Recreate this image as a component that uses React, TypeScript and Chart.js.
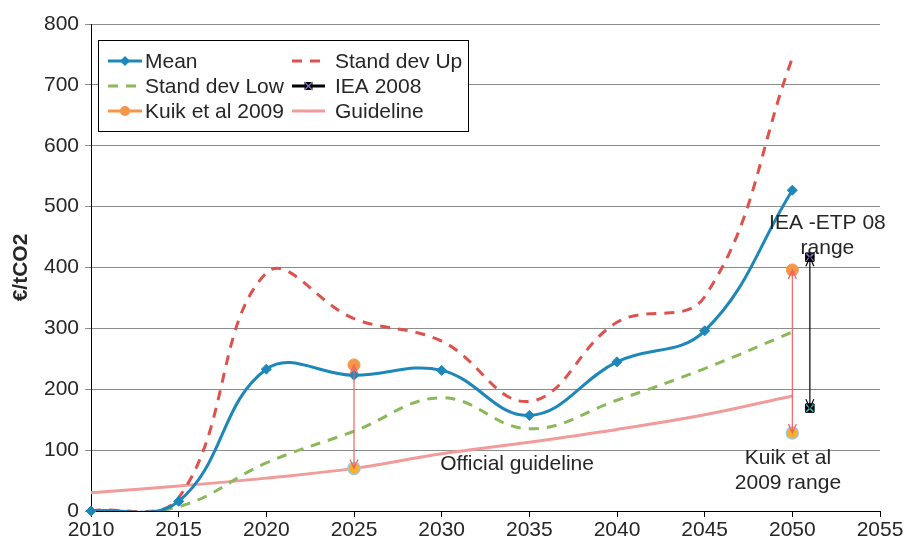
import React, { useEffect, useRef } from "react";
import { Chart, registerables } from "chart.js";

Chart.register(...registerables);

// ---------- data ----------
const years = [2010, 2015, 2020, 2025, 2030, 2035, 2040, 2045, 2050];
const meanValues = [0, 16, 233, 223, 231, 157, 245, 296, 527];
const sdUpValues = [0, 22, 391, 316, 279, 180, 310, 352, 744];
const sdLowValues = [0, 7, 79, 131, 186, 135, 182, 234, 294];
const guidelineValues = [30, 41, 54, 70, 94, 113, 134, 158, 189];
const kuikYears = [2025, 2050];
const kuikHigh = [240, 396];
const kuikLow = [70, 128];
const ieaYears = [2051];
const ieaHigh = [417];
const ieaLow = [169];
const xTickValues = [2010, 2015, 2020, 2025, 2030, 2035, 2040, 2045, 2050, 2055];
const yTickValues = [0, 100, 200, 300, 400, 500, 600, 700, 800];
const legendLabels = ["Mean", "Stand dev Up", "Stand dev Low", "IEA 2008", "Kuik et al 2009", "Guideline"];
const ieaNote = ["IEA -ETP 08", "range"];
const kuikNote = ["Kuik et al", "2009 range"];
const guidelineNote = "Official guideline";
const yTitle = "€/tCO2";

// ---------- styles ----------
const FONT = "'Liberation Sans', Arial, sans-serif";
const TEXT = "#262626";
const BLUE = "#1d87ba";
const RED = "#dd524c";
const GREEN = "#8cb85c";
const PINK = "#f29b9b";
const ORANGE = "#f79646";

const pts = (xs: number[], ys: number[]) => xs.map((x, i) => ({ x, y: ys[i] }));

const arrowsPlugin = {
  id: "rangeArrows",
  afterDatasetsDraw(chart: any) {
    const { ctx, scales } = chart;
    const xs = scales.x;
    const ys = scales.y;
    const arrow = (xv: number, hi: number, lo: number, color: string) => {
      const px = xs.getPixelForValue(xv);
      const y1 = ys.getPixelForValue(hi);
      const y2 = ys.getPixelForValue(lo);
      ctx.save();
      ctx.strokeStyle = color;
      ctx.lineWidth = 1.2;
      ctx.beginPath();
      ctx.moveTo(px, y1);
      ctx.lineTo(px, y2);
      ctx.moveTo(px - 4, y1 + 9);
      ctx.lineTo(px, y1);
      ctx.lineTo(px + 4, y1 + 9);
      ctx.moveTo(px - 4, y2 - 9);
      ctx.lineTo(px, y2);
      ctx.lineTo(px + 4, y2 - 9);
      ctx.stroke();
      ctx.restore();
    };
    kuikYears.forEach((yr, i) => arrow(yr, kuikHigh[i], kuikLow[i], "#f06262"));
    ieaYears.forEach((yr, i) => arrow(yr, ieaHigh[i], ieaLow[i], "#000"));

    // notes
    ctx.save();
    ctx.font = `21px ${FONT}`;
    ctx.fillStyle = TEXT;
    ctx.textAlign = "center";
    ctx.textBaseline = "middle";
    const ix = xs.getPixelForValue(2052);
    ctx.fillText(ieaNote[0], ix, ys.getPixelForValue(473));
    ctx.fillText(ieaNote[1], ix, ys.getPixelForValue(431));
    const kx = xs.getPixelForValue(2049.75);
    ctx.fillText(kuikNote[0], kx, ys.getPixelForValue(87));
    ctx.fillText(kuikNote[1], kx, ys.getPixelForValue(46));
    ctx.fillText(guidelineNote, xs.getPixelForValue(2034.3), ys.getPixelForValue(77));
    ctx.restore();
  },
};

const legendPlugin = {
  id: "boxLegend",
  afterDraw(chart: any) {
    const { ctx } = chart;
    ctx.save();
    ctx.fillStyle = "#fff";
    ctx.fillRect(98, 40, 370, 91);
    ctx.strokeStyle = "#000";
    ctx.lineWidth = 1;
    ctx.strokeRect(98.5, 40.5, 370, 91);
    const rows = [61, 86, 111];
    const col = [
      { x0: 108, x1: 142, tx: 145 },
      { x0: 292, x1: 325, tx: 335 },
    ];
    const items = [
      { c: 0, r: 0, color: BLUE, dash: [], marker: "diamond" },
      { c: 1, r: 0, color: RED, dash: [10, 8], marker: "" },
      { c: 0, r: 1, color: GREEN, dash: [10, 8], marker: "" },
      { c: 1, r: 1, color: "#000", dash: [], marker: "iea" },
      { c: 0, r: 2, color: ORANGE, dash: [], marker: "circle" },
      { c: 1, r: 2, color: PINK, dash: [], marker: "" },
    ];
    items.forEach((it, i) => {
      const y = rows[it.r];
      const { x0, x1, tx } = col[it.c];
      ctx.strokeStyle = it.color;
      ctx.lineWidth = 3;
      ctx.setLineDash(it.dash);
      ctx.beginPath();
      ctx.moveTo(x0, y);
      ctx.lineTo(x1, y);
      ctx.stroke();
      ctx.setLineDash([]);
      const mx = (x0 + x1) / 2;
      if (it.marker === "diamond") {
        ctx.fillStyle = BLUE;
        ctx.beginPath();
        ctx.moveTo(mx, y - 5);
        ctx.lineTo(mx + 5, y);
        ctx.lineTo(mx, y + 5);
        ctx.lineTo(mx - 5, y);
        ctx.closePath();
        ctx.fill();
      } else if (it.marker === "circle") {
        ctx.fillStyle = ORANGE;
        ctx.beginPath();
        ctx.arc(mx, y, 5, 0, Math.PI * 2);
        ctx.fill();
      } else if (it.marker === "iea") {
        ctx.fillStyle = "#000";
        ctx.fillRect(mx - 4, y - 4, 8, 8);
        ctx.strokeStyle = "#8a6fc0";
        ctx.lineWidth = 1.2;
        ctx.beginPath();
        ctx.moveTo(mx - 4, y - 4);
        ctx.lineTo(mx + 4, y + 4);
        ctx.moveTo(mx + 4, y - 4);
        ctx.lineTo(mx - 4, y + 4);
        ctx.stroke();
      }
      ctx.fillStyle = TEXT;
      ctx.font = `21px ${FONT}`;
      ctx.textAlign = "left";
      ctx.textBaseline = "middle";
      ctx.fillText(legendLabels[i], tx, y + 1);
    });
    ctx.restore();
  },
};

export default function App() {
  const canvasRef = useRef<HTMLCanvasElement | null>(null);

  useEffect(() => {
    if (!canvasRef.current) return;
    const chart = new Chart(canvasRef.current, {
      type: "line",
      data: {
        datasets: [
          {
            label: "Mean markers",
            data: pts(years, meanValues),
            showLine: false,
            pointStyle: "rectRot",
            pointRadius: 5,
            backgroundColor: BLUE,
            borderColor: BLUE,
            clip: false,
            order: 0,
          } as any,
          {
            label: legendLabels[4],
            data: pts(kuikYears, kuikHigh),
            showLine: false,
            pointStyle: "circle",
            pointRadius: 6,
            backgroundColor: ORANGE,
            borderColor: ORANGE,
            borderWidth: 1,
            order: 0,
          },
          {
            label: "Kuik low",
            data: pts(kuikYears, kuikLow),
            showLine: false,
            pointStyle: "circle",
            pointRadius: 6,
            backgroundColor: "#f6b12a",
            borderColor: "#9cc8e6",
            borderWidth: 1.5,
            order: 0,
          },
          {
            label: legendLabels[3],
            data: [...pts(ieaYears, ieaHigh), ...pts(ieaYears, ieaLow)],
            showLine: false,
            pointStyle: "rect",
            pointRadius: 6,
            backgroundColor: "#000",
            borderColor: "#000",
            borderWidth: 1,
            order: 0,
          },
          {
            label: "IEA cross",
            data: [...pts(ieaYears, ieaHigh), ...pts(ieaYears, ieaLow)],
            showLine: false,
            pointStyle: "crossRot",
            pointRadius: 5,
            borderColor: ["#8a6fc0", "#35c6c9"],
            pointBorderColor: ["#8a6fc0", "#35c6c9"],
            borderWidth: 1.5,
            order: -1,
          } as any,
          {
            label: legendLabels[0],
            data: pts(years, meanValues),
            borderColor: BLUE,
            borderWidth: 3,
            pointRadius: 0,
            tension: 0.4,
            capBezierPoints: false,
            fill: false,
            order: 1,
          },
          {
            label: legendLabels[1],
            data: pts(years, sdUpValues),
            borderColor: RED,
            borderWidth: 3,
            borderDash: [10, 8],
            pointRadius: 0,
            tension: 0.4,
            capBezierPoints: false,
            fill: false,
            order: 3,
          },
          {
            label: legendLabels[2],
            data: pts(years, sdLowValues),
            borderColor: GREEN,
            borderWidth: 3,
            borderDash: [10, 8],
            pointRadius: 0,
            tension: 0.4,
            capBezierPoints: false,
            fill: false,
            order: 4,
          },
          {
            label: legendLabels[5],
            data: pts(years, guidelineValues),
            borderColor: PINK,
            borderWidth: 3,
            pointRadius: 0,
            tension: 0.4,
            capBezierPoints: false,
            fill: false,
            order: 5,
          },
        ] as any,
      },
      options: {
        animation: false,
        responsive: true,
        maintainAspectRatio: false,
        elements: { line: { capBezierPoints: false } },
        layout: { padding: { top: 24, right: 27, left: 0, bottom: 0 } },
        plugins: { legend: { display: false }, tooltip: { enabled: false } },
        scales: {
          x: {
            type: "linear",
            min: xTickValues[0],
            max: xTickValues[xTickValues.length - 1],
            afterBuildTicks: (s: any) => {
              s.ticks = xTickValues.map((v) => ({ value: v }));
            },
            afterFit: (s: any) => {
              s.height = 31;
            },
            ticks: {
              callback: (v: any) => String(v),
              font: { size: 21, family: FONT },
              color: TEXT,
              padding: 1,
              maxRotation: 0,
              autoSkip: false,
            },
            grid: { drawOnChartArea: false, color: "#000", tickLength: 6 },
            border: { color: "#000", width: 1 },
          },
          y: {
            type: "linear",
            min: yTickValues[0],
            max: yTickValues[yTickValues.length - 1],
            afterBuildTicks: (s: any) => {
              s.ticks = yTickValues.map((v) => ({ value: v }));
            },
            afterFit: (s: any) => {
              s.width = 91;
            },
            ticks: {
              font: { size: 21, family: FONT },
              color: TEXT,
              padding: 6,
            },
            grid: { color: "#8c8c8c", lineWidth: 1, tickLength: 6 },
            border: { color: "#000", width: 1 },
            title: {
              display: true,
              text: yTitle,
              font: { size: 21, family: FONT, weight: "bold" },
              color: TEXT,
              padding: { top: 9, bottom: 0 },
            },
          },
        },
      } as any,
      plugins: [arrowsPlugin, legendPlugin],
    });
    return () => chart.destroy();
  }, []);

  return (
    <div style={{ position: "fixed", left: 0, top: 0, width: 907, height: 542, background: "#fff" }}>
      <canvas ref={canvasRef} />
    </div>
  );
}
